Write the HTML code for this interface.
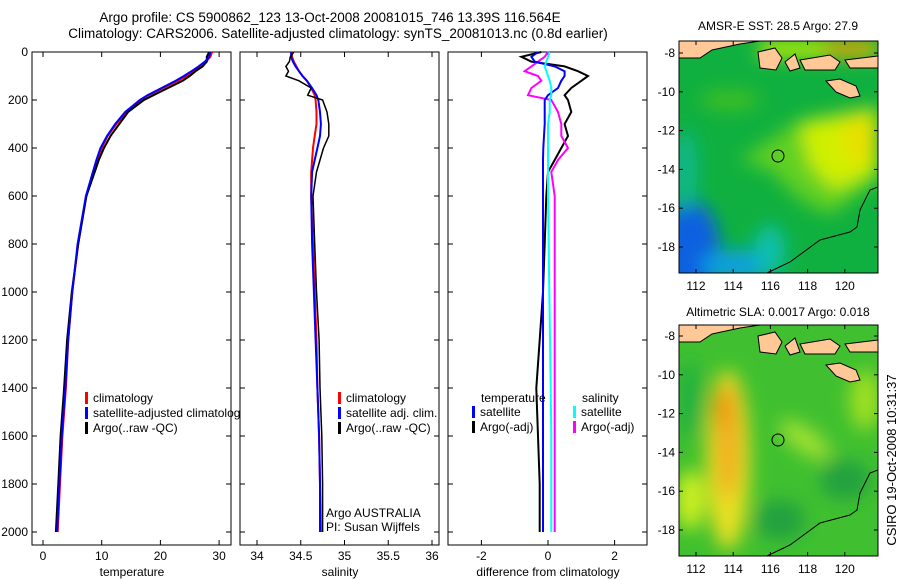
<!DOCTYPE html>
<html><head><meta charset="utf-8"><style>
body{margin:0;background:#fff}
svg{display:block;font-family:"Liberation Sans",sans-serif;font-size:12px}
</style></head><body>
<svg id="s" width="900" height="580" xmlns="http://www.w3.org/2000/svg">
<defs>
<clipPath id="m1"><rect x="679" y="41" width="199" height="232"/></clipPath>
<clipPath id="m2"><rect x="679" y="325" width="199" height="231"/></clipPath>
<filter id="bl" x="-50%" y="-50%" width="200%" height="200%"><feGaussianBlur stdDeviation="9"/></filter>
</defs>
<text x="330" y="22" text-anchor="middle" font-size="13.5">Argo profile: CS 5900862_123 13-Oct-2008 20081015_746 13.39S 116.564E</text>
<text x="338" y="38" text-anchor="middle" font-size="13.5">Climatology: CARS2006. Satellite-adjusted climatology: synTS_20081013.nc (0.8d earlier)</text>
<g id="g1"></g>
<g id="g2"></g>
<g id="g3"></g>
<g>
<text x="778" y="30" text-anchor="middle">AMSR-E SST: 28.5 Argo: 27.9</text>
<g clip-path="url(#m1)">
<rect x="679" y="41" width="199" height="232" fill="#10b040"/>
<g filter="url(#bl)">
<ellipse cx="690" cy="250" rx="30" ry="50" fill="#1060e0"/>
<ellipse cx="740" cy="265" rx="40" ry="15" fill="#10a0e0"/>
<ellipse cx="770" cy="250" rx="15" ry="25" fill="#10c0b0"/>
<ellipse cx="685" cy="170" rx="12" ry="40" fill="#10b890"/>
<polygon points="740,160 800,120 878,105 878,180 830,215 800,200 770,170" fill="#60d020"/>
<polygon points="800,125 878,110 878,170 835,190 810,165" fill="#d0f000"/>
<ellipse cx="860" cy="140" rx="18" ry="25" fill="#e8e000"/>
<ellipse cx="730" cy="100" rx="30" ry="10" fill="#40c020"/>
<rect x="760" y="41" width="118" height="16" fill="#c8f000"/>
<ellipse cx="850" cy="48" rx="30" ry="8" fill="#f0a000"/>
</g>
<path d="M679,41 L679,58 L700,58 L712,50 L740,44 L760,41 Z" fill="#ffc896" stroke="#000"/>
<path d="M758,52 L775,48 L782,58 L776,70 L760,68 Z" fill="#ffc896" stroke="#000"/>
<path d="M785,62 L795,54 L800,68 L790,71 Z" fill="#ffc896" stroke="#000"/>
<path d="M800,60 L830,55 L840,62 L835,70 L805,70 Z" fill="#ffc896" stroke="#000"/>
<path d="M845,60 L878,56 L878,68 L850,68 Z" fill="#ffc896" stroke="#000"/>
<path d="M826,81 L840,79 L856,86 L860,96 L850,98 L836,92 Z" fill="#ffc896" stroke="#000"/>
<path d="M767,273 L790,262 L820,240 L850,232 L857,227 L860,210 L870,190 L878,187" fill="none" stroke="#000"/>
<circle cx="778" cy="156" r="6" fill="none" stroke="#000"/>
</g>
<rect x="679" y="41" width="199" height="232" fill="none" stroke="#000"/>
<g id="mx1"></g>
</g>
<g>
<text x="778" y="316" text-anchor="middle">Altimetric SLA: 0.0017 Argo: 0.018</text>
<g clip-path="url(#m2)">
<rect x="679" y="325" width="199" height="231" fill="#40c030"/>
<g filter="url(#bl)">
<ellipse cx="690" cy="400" rx="12" ry="40" fill="#20b040"/>
<ellipse cx="690" cy="500" rx="14" ry="30" fill="#d0f020"/>
<ellipse cx="728" cy="460" rx="22" ry="90" fill="#e8e020"/>
<ellipse cx="728" cy="440" rx="13" ry="60" fill="#f0b020"/>
<ellipse cx="722" cy="410" rx="8" ry="20" fill="#f09010"/>
<ellipse cx="805" cy="440" rx="30" ry="12" fill="#a0e030" transform="rotate(35 805 440)"/>
<ellipse cx="845" cy="480" rx="25" ry="20" fill="#20a040"/>
<ellipse cx="865" cy="400" rx="15" ry="30" fill="#a0e020"/>
<ellipse cx="780" cy="520" rx="25" ry="20" fill="#20a040"/>
</g>
<path d="M679,325 L679,342 L700,342 L712,334 L740,328 L760,325 Z" fill="#ffc896" stroke="#000"/>
<path d="M758,336 L775,332 L782,342 L776,354 L760,352 Z" fill="#ffc896" stroke="#000"/>
<path d="M785,346 L795,338 L800,352 L790,355 Z" fill="#ffc896" stroke="#000"/>
<path d="M800,344 L830,339 L840,346 L835,354 L805,354 Z" fill="#ffc896" stroke="#000"/>
<path d="M845,344 L878,340 L878,352 L850,352 Z" fill="#ffc896" stroke="#000"/>
<path d="M826,365 L840,363 L856,370 L860,380 L850,382 L836,376 Z" fill="#ffc896" stroke="#000"/>
<path d="M767,556 L790,545 L820,523 L850,515 L857,510 L860,493 L870,473 L878,470" fill="none" stroke="#000"/>
<circle cx="778" cy="440" r="6" fill="none" stroke="#000"/>
</g>
<rect x="679" y="325" width="199" height="231" fill="none" stroke="#000"/>
<g id="mx2"></g>
</g>
<text transform="translate(896,460) rotate(-90)" text-anchor="middle" font-size="13">CSIRO 19-Oct-2008 10:31:37</text>
</svg>
<script>
const depths=[0,20,40,60,80,100,120,150,180,200,250,300,350,400,450,500,600,800,1000,1200,1400,1600,1800,2000];
const tempClim=[28.8,28.5,27.8,26.8,25.7,24.5,23,20.5,18,16.7,14.2,12.5,11,10,9.2,8.5,7.4,6,5,4.3,3.9,3.3,2.9,2.5];
const tempSat=[28.5,28.3,27.6,26.5,25.3,24,22.6,20.2,17.8,16.5,14,12.3,10.9,9.8,9.1,8.5,7.3,5.9,5,4.3,3.8,3.2,2.8,2.4];
const tempArgo=[28.3,27.9,27.9,27.2,26,25,23.8,21.3,18.8,17.2,14.5,13,11.5,10.4,9.5,8.8,7.4,6,4.9,4.1,3.6,3.0,2.6,2.2];
const salClim=[34.4,34.4,34.42,34.45,34.48,34.52,34.57,34.62,34.66,34.67,34.68,34.68,34.66,34.64,34.63,34.62,34.62,34.64,34.66,34.68,34.69,34.71,34.72,34.73];
const salSat=[34.39,34.39,34.41,34.44,34.48,34.52,34.57,34.63,34.68,34.7,34.72,34.73,34.72,34.69,34.66,34.63,34.62,34.63,34.65,34.67,34.69,34.71,34.72,34.72];
const salArgo=[34.42,34.38,34.37,34.33,34.36,34.33,34.48,34.62,34.58,34.75,34.8,34.82,34.82,34.76,34.72,34.68,34.64,34.66,34.68,34.71,34.72,34.74,34.75,34.75];
const diffTSat=[-0.3,-0.5,-0.4,0.2,0.5,0.5,0.4,0.3,0.0,-0.1,-0.1,-0.1,-0.12,-0.14,-0.15,-0.15,-0.15,-0.15,-0.15,-0.15,-0.15,-0.15,-0.15,-0.15];
const diffTArgo=[-0.2,-0.8,-0.5,0.5,0.9,1.2,1.0,0.7,0.5,0.6,0.7,0.5,0.6,0.4,0.2,0.0,-0.05,-0.1,-0.15,-0.25,-0.35,-0.3,-0.25,-0.25];
const diffSSat=[0.05,0.0,-0.05,-0.1,-0.05,0.0,0.05,0.1,0.1,0.05,0.05,0.0,0.0,0.0,0.0,0.0,0.0,0.02,0.04,0.06,0.08,0.1,0.1,0.1];
const diffSArgo=[0.0,-0.1,-0.3,-0.5,-0.7,-0.3,-0.2,-0.5,-0.6,0.1,0.3,0.4,0.4,0.6,0.3,0.1,0.2,0.2,0.2,0.2,0.2,0.2,0.2,0.2];
const tTicks=[0,10,20,30];
const sTicks=[34,34.5,35,35.5,36];
const dTicks=[-2,0,2];
const yTicks=[0,200,400,600,800,1000,1200,1400,1600,1800,2000];
const lonTicks=[112,114,116,118,120];
const latTicks=[-8,-10,-12,-14,-16,-18];
const NS='http://www.w3.org/2000/svg';
const yD=d=>52+d*0.24;
function mk(p,tag,a){const e=document.createElementNS(NS,tag);for(const k in a)e.setAttribute(k,a[k]);p.appendChild(e);return e;}
function panel(g,x0,xf,ticks,label,series,lbl){
  mk(g,'rect',{x:x0,y:52,width:199,height:493,fill:'#fff',stroke:'#000'});
  ticks.forEach(t=>{const x=xf(t);
    const l=mk(g,'line',{x1:x,x2:x,y1:545,y2:540,stroke:'#000'});
    
    mk(g,'line',{x1:x,x2:x,y1:52,y2:57,stroke:'#000'});
    const t2=mk(g,'text',{x:x,y:560,'text-anchor':'middle'});t2.textContent=t;
    });
  yTicks.forEach(d=>{const y=yD(d);
    mk(g,'line',{x1:x0,x2:x0+5,y1:y,y2:y,stroke:'#000'});
    mk(g,'line',{x1:x0+199,x2:x0+194,y1:y,y2:y,stroke:'#000'});
    if(lbl){const t=mk(g,'text',{x:x0-4,y:y+4,'text-anchor':'end'});t.textContent=d;
      }});
  const xl=mk(g,'text',{x:x0+100,y:576,'text-anchor':'middle'});xl.textContent=label;
  
  series.forEach(s=>{
    const pts=depths.map((d,i)=>xf(s.v[i]).toFixed(1)+','+yD(d).toFixed(1)).join(' ');
    const p=mk(g,'polyline',{points:pts,fill:'none',stroke:s.c,'stroke-width':s.w||2});
    });
}
function legend(g,x,y,items){items.forEach((it,i)=>{
  mk(g,'rect',{x:x,y:y+i*15-10,width:3,height:12,fill:it[1]});
  const t=mk(g,'text',{x:x+8,y:y+i*15});t.textContent=it[0];
  });}
const g1=document.getElementById('g1'),g2=document.getElementById('g2'),g3=document.getElementById('g3');
const xT=v=>43+v*5.87, xS=v=>257+(v-34)*87.5, xDf=v=>548+v*33.3;
panel(g1,32,xT,tTicks,'temperature',[{v:tempClim,c:'#f00',n:'temp-climatology-line'},{v:tempArgo,c:'#000',n:'temp-argo-line'},{v:tempSat,c:'#00f',n:'temp-satellite-line'}],true);
legend(g1,85,402,[['climatology','#f00'],['satellite-adjusted climatology','#00f'],['Argo(..raw -QC)','#000']]);
panel(g2,240,xS,sTicks,'salinity',[{v:salClim,c:'#f00',n:'sal-climatology-line'},{v:salSat,c:'#00f',n:'sal-satellite-line'},{v:salArgo,c:'#000',n:'sal-argo-line',w:1.5}],false);
legend(g2,338,402,[['climatology','#f00'],['satellite adj. clim.','#00f'],['Argo(..raw -QC)','#000']]);
const a1=mk(g2,'text',{x:326,y:517});a1.textContent='Argo AUSTRALIA';

const a2=mk(g2,'text',{x:326,y:531});a2.textContent='PI: Susan Wijffels';

panel(g3,448,xDf,dTicks,'difference from climatology',[{v:diffTArgo,c:'#000',n:'temp-argo-diff-line'},{v:diffSArgo,c:'#f0f',n:'sal-argo-diff-line'},{v:diffTSat,c:'#00f',n:'temp-sat-diff-line'},{v:diffSSat,c:'#0ff',n:'sal-sat-diff-line'}],false);
const t1=mk(g3,'text',{x:481,y:402});t1.textContent='temperature';

const t2=mk(g3,'text',{x:582,y:402});t2.textContent='salinity';

legend(g3,472,416,[['satellite','#00f'],['Argo(-adj)','#000']]);
legend(g3,573,416,[['satellite','#0ff'],['Argo(-adj)','#f0f']]);
function mapAxes(id,top,bottom,lat8){const g=document.getElementById(id);
  lonTicks.forEach(l=>{const x=696+(l-112)*18.6;
    mk(g,'line',{x1:x,x2:x,y1:top,y2:top+4,stroke:'#000'});mk(g,'line',{x1:x,x2:x,y1:bottom,y2:bottom-4,stroke:'#000'});
    const t=mk(g,'text',{x:x,y:bottom+17,'text-anchor':'middle'});t.textContent=l;
    });
  latTicks.forEach(l=>{const y=lat8+(-8-l)*19.4;
    mk(g,'line',{x1:679,x2:683,y1:y,y2:y,stroke:'#000'});mk(g,'line',{x1:878,x2:874,y1:y,y2:y,stroke:'#000'});
    const t=mk(g,'text',{x:675,y:y+4,'text-anchor':'end'});t.textContent=l;
    });}
mapAxes('mx1',41,273,53);
mapAxes('mx2',325,556,336);
</script>
</body></html>
